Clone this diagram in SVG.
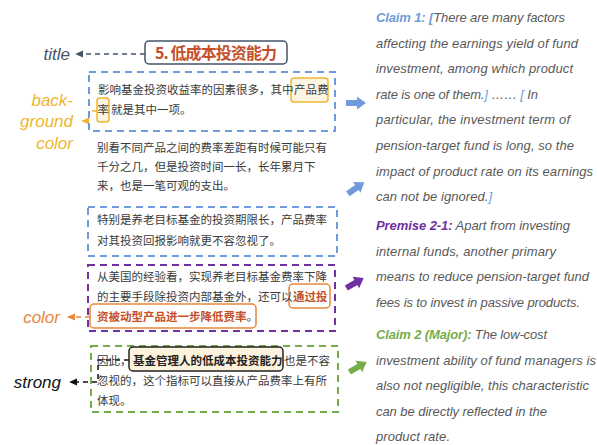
<svg xmlns="http://www.w3.org/2000/svg" width="597" height="445" viewBox="0 0 597 445">
<style>
.cn{font-family:"Noto Sans CJK SC","Liberation Sans",sans-serif;font-size:11.5px;fill:#3a3a3a}
.cnb{font-weight:bold}
.em{fill:#c4502a;font-weight:bold}
.en{font-family:"Liberation Sans",Arial,sans-serif;font-style:italic;font-size:13px;fill:#595959}
.lab{font-family:"Liberation Sans",Arial,sans-serif;font-style:italic;font-size:17px}
.box{fill:none;stroke-width:2;stroke-dasharray:7 5}
.conn{fill:none;stroke-width:1.5;stroke-dasharray:5 4}
.blu{fill:#6f9bdc}.pur{fill:#7030a0}.grn{fill:#76ad4a}
.bb{font-weight:bold}
</style>
<defs>
<marker id="mTitle" viewBox="0 0 10 10" refX="8" refY="5" markerWidth="6" markerHeight="6" orient="auto"><path d="M0,1 L9,5 L0,9 Z" fill="#44546a"/></marker>
<marker id="mBg" viewBox="0 0 10 10" refX="8" refY="5" markerWidth="6" markerHeight="6" orient="auto"><path d="M0,1 L9,5 L0,9 Z" fill="#efb530"/></marker>
<marker id="mCol" viewBox="0 0 10 10" refX="8" refY="5" markerWidth="6" markerHeight="6" orient="auto"><path d="M0,1 L9,5 L0,9 Z" fill="#e8863a"/></marker>
<marker id="mStr" viewBox="0 0 10 10" refX="8" refY="5" markerWidth="6" markerHeight="6" orient="auto"><path d="M0,1 L9,5 L0,9 Z" fill="#111"/></marker>
<path id="blk" d="M-10,-3 H1 V-6.5 L10,0 L1,6.5 V3 H-10 Z"/>
</defs>

<g id="connectors">
<path class="conn" d="M145,54 H76" stroke="#44546a" marker-end="url(#mTitle)"/>
<path class="conn" d="M97,111 H89 V121 H82" stroke="#efb530" marker-end="url(#mBg)"/>
<path class="conn" d="M90,317 H68" stroke="#e8863a" marker-end="url(#mCol)"/>
<path class="conn" d="M129,360 H98 V382 H70" stroke="#111" marker-end="url(#mStr)"/>
<use href="#blk" class="blu" transform="translate(356,103)"/>
<use href="#blk" class="blu" transform="translate(356,188) rotate(-35)"/>
<use href="#blk" class="pur" transform="translate(355,283) rotate(-30)"/>
<use href="#blk" class="grn" transform="translate(358,367) rotate(-30)"/>
</g>

<g id="title">
<rect x="145" y="41" width="142" height="23" rx="4" fill="#fff" stroke="#44546a" stroke-width="1.5"/>
<text x="155" y="58.5" font-family="Noto Sans CJK SC, Liberation Sans, sans-serif" font-size="16" font-weight="bold" fill="#c4502a" textLength="122">5. 低成本投资能力</text>
</g>

<g id="label-title"><text class="lab" x="70" y="60" text-anchor="end" fill="#44546a">title</text></g>
<g id="label-background">
<text class="lab" x="73" y="106" text-anchor="end" fill="#efb530">back-</text>
<text class="lab" x="73" y="127" text-anchor="end" fill="#efb530">ground</text>
<text class="lab" x="73" y="149" text-anchor="end" fill="#efb530">color</text>
</g>
<g id="label-color"><text class="lab" x="60" y="323" text-anchor="end" fill="#e8863a">color</text></g>
<g id="label-strong"><text class="lab" x="61" y="388" text-anchor="end" fill="#111">strong</text></g>

<g id="para1">
<rect class="box" x="89" y="72" width="246" height="59" stroke="#6f9bdc"/>
<rect x="291" y="78" width="37" height="24" rx="3" fill="#fdf5e1" stroke="#efb530" stroke-width="1.5"/>
<rect x="97" y="98" width="12" height="24" rx="3" fill="#fdf5e1" stroke="#efb530" stroke-width="1.5"/>
<text class="cn" x="98" y="94">影响基金投资收益率的因素很多，其中<tspan x="294">产品费</tspan></text>
<text class="cn" x="97.5" y="114">率<tspan x="111">就是其中一项。</tspan></text>
</g>

<g id="para2">
<text class="cn" x="97" y="152">别看不同产品之间的费率差距有时候可能只有</text>
<text class="cn" x="97" y="171">千分之几，但是投资时间一长，长年累月下</text>
<text class="cn" x="97" y="190">来，也是一笔可观的支出。</text>
</g>

<g id="para3">
<rect class="box" x="88" y="207" width="249" height="49" stroke="#6f9bdc"/>
<text class="cn" x="97" y="224">特别是养老目标基金的投资期限长，产品费率</text>
<text class="cn" x="97" y="245">对其投资回报影响就更不容忽视了。</text>
</g>

<g id="para4">
<rect class="box" x="88" y="265" width="247" height="66" stroke="#7030a0"/>
<rect x="289" y="284" width="41" height="24" rx="4" fill="#fff" stroke="#e8863a" stroke-width="1.5"/>
<rect x="90" y="304" width="166" height="24" rx="4" fill="#fff" stroke="#e8863a" stroke-width="1.5"/>
<text class="cn" x="97" y="281">从美国的经验看，实现养老目标基金费率下降</text>
<text class="cn" x="97" y="301">的主要手段除投资内部基金外，还可以<tspan class="em" x="293">通过投</tspan></text>
<text class="cn" x="97" y="321"><tspan class="em">资被动型产品进一步降低费率</tspan>。</text>
</g>

<g id="para5">
<rect class="box" x="91" y="346" width="247" height="66" stroke="#76ad4a"/>
<rect x="129" y="347" width="154" height="24" rx="4" fill="#fdf3dc" stroke="#222" stroke-width="1.5"/>
<text class="cn" x="97" y="365">因此，<tspan class="cnb" x="133" fill="#222">基金管理人的低成本投资能力</tspan><tspan x="284">也是不容</tspan></text>
<text class="cn" x="97" y="385">忽视的，这个指标可以直接从产品费率上有所</text>
<text class="cn" x="97" y="405">体现。</text>
</g>

<g id="claim1">
<text class="en" x="376" y="22" textLength="189"><tspan class="bb" fill="#6f9bdc">Claim 1: [</tspan>There are many factors</text>
<text class="en" x="376" y="48" textLength="202">affecting the earnings yield of fund</text>
<text class="en" x="376" y="73" textLength="197">investment, among which product</text>
<text class="en" x="376" y="99" textLength="162">rate is one of them.<tspan fill="#6f9bdc">]</tspan> …… <tspan fill="#6f9bdc">[</tspan> In</text>
<text class="en" x="376" y="124" textLength="194">particular, the investment term of</text>
<text class="en" x="376" y="150" textLength="198">pension-target fund is long, so the</text>
<text class="en" x="376" y="176" textLength="217">impact of product rate on its earnings</text>
<text class="en" x="376" y="201" textLength="116">can not be ignored.<tspan fill="#6f9bdc">]</tspan></text>
</g>

<g id="premise21">
<text class="en" x="376" y="230" textLength="194"><tspan class="bb" fill="#7030a0">Premise 2-1:</tspan> Apart from investing</text>
<text class="en" x="376" y="256" textLength="180">internal funds, another primary</text>
<text class="en" x="376" y="281" textLength="213">means to reduce pension-target fund</text>
<text class="en" x="376" y="307" textLength="204">fees is to invest in passive products.</text>
</g>

<g id="claim2">
<text class="en" x="376" y="339" textLength="171"><tspan class="bb" fill="#76ad4a">Claim 2 (Major):</tspan> The low-cost</text>
<text class="en" x="376" y="365" textLength="220">investment ability of fund managers is</text>
<text class="en" x="376" y="390" textLength="213">also not negligible, this characteristic</text>
<text class="en" x="376" y="416" textLength="171">can be directly reflected in the</text>
<text class="en" x="376" y="441" textLength="74">product rate.</text>
</g>
</svg>
